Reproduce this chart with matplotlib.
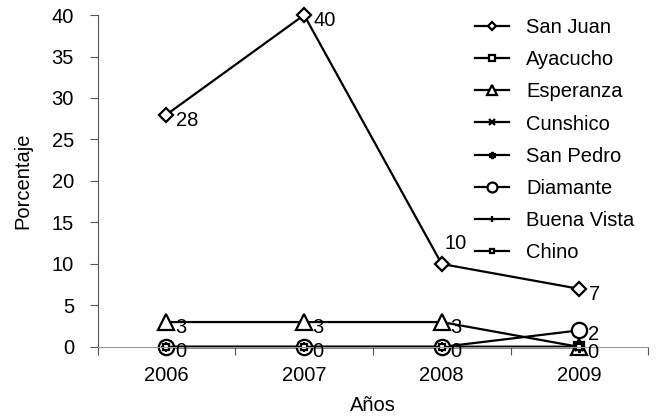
import numpy as np
import matplotlib
matplotlib.use("Agg")
import matplotlib.pyplot as plt

plt.rcParams["font.family"] = ["Liberation Sans", "DejaVu Sans"]

# datos
anios = ["2006", "2007", "2008", "2009"]
san_juan = [28, 40, 10, 7]
ayacucho = [0, 0, 0, 0]
esperanza = [3, 3, 3, 0]
cunshico = [0, 0, 0, 0]
san_pedro = [0, 0, 0, 0]
diamante = [0, 0, 0, 2]
buena_vista = [0, 0, 0, 0]
chino = [0, 0, 0, 0]

series = [
    ("San Juan", san_juan, dict(marker="D", markersize=7)),
    ("Ayacucho", ayacucho, dict(marker="s", markersize=7)),
    ("Esperanza", esperanza, dict(marker="^", markersize=11)),
    ("Cunshico", cunshico, dict(marker="x", markersize=6)),
    ("San Pedro", san_pedro, dict(marker=(6, 2, 0), markersize=8)),
    ("Diamante", diamante, dict(marker="o", markersize=11)),
    ("Buena Vista", buena_vista, dict(marker="+", markersize=7)),
    ("Chino", chino, dict(marker="s", markersize=4.5)),
]

x = np.arange(len(anios))
fs = 14.5

fig = plt.figure(figsize=(6.6, 4.17), dpi=100)
ax = fig.add_axes([0.148, 0.168, 0.834, 0.796])

for nombre, vals, estilo in series:
    ax.plot(x, vals, color="black", linewidth=1.6, markerfacecolor="white",
            markeredgecolor="black", markeredgewidth=1.6, label=nombre,
            clip_on=False, **estilo)

# etiquetas de datos
for i, v in enumerate(san_juan):
    if i == 2:
        ax.annotate(str(v), (x[i], v), xytext=(2, 8), textcoords="offset points",
                    fontsize=fs, ha="left", va="bottom")
    else:
        ax.annotate(str(v), (x[i], v), xytext=(7, -4), textcoords="offset points",
                    fontsize=fs, ha="left", va="center")
for i, v in enumerate(esperanza):
    ax.annotate(str(v), (x[i], v), xytext=(6, -4), textcoords="offset points",
                fontsize=fs, ha="left", va="center")
for i, v in enumerate(diamante):
    ax.annotate(str(v), (x[i], v), xytext=(6, -3), textcoords="offset points",
                fontsize=fs, ha="left", va="center")

ax.set_xlim(-0.5, 3.5)
ax.set_ylim(0, 40)
ax.set_yticks(np.arange(0, 41, 5))
ax.set_xticks(np.arange(-0.5, 3.6, 1))
ax.set_xticklabels([])
ax.set_xticks(x, minor=True)
ax.set_xticklabels(anios, minor=True)
ax.tick_params(axis="x", which="minor", length=0, labelsize=fs, pad=14)
ax.tick_params(axis="x", which="major", length=6, direction="out", color="#555555")
ax.tick_params(axis="y", length=6, direction="out", labelsize=fs, color="#555555", pad=11)

for s in ["top", "right"]:
    ax.spines[s].set_visible(False)
ax.spines["left"].set_color("#555555")
ax.spines["bottom"].set_color("#999999")

ax.set_xlabel("Años", fontsize=fs)
ax.set_ylabel("Porcentaje", fontsize=fs)
ax.xaxis.set_label_coords(0.5, -0.148)
ax.yaxis.set_label_coords(-0.118, 0.5)

fig.legend(loc="upper left", bbox_to_anchor=(0.698, 0.99), frameon=False,
           fontsize=fs, handlelength=1.7, labelspacing=0.65, handletextpad=0.85,
           markerscale=0.65, borderpad=0.2)

fig.savefig("out.png", dpi=100)
